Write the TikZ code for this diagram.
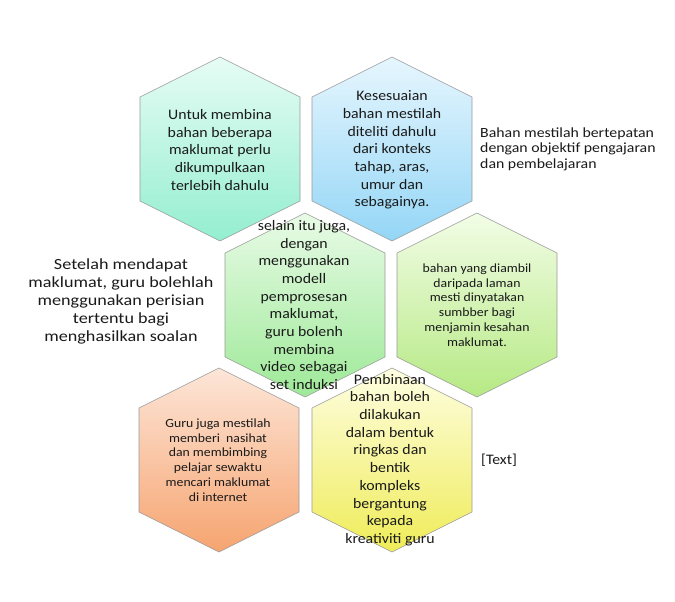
\documentclass[tikz,border=0pt]{standalone}
\usepackage{fontspec}
\setmainfont{Carlito}
\newfontfamily\bigf[FakeStretch=1.09]{Carlito}
\newfontfamily\smallf[FakeStretch=1.1]{Carlito}
\newfontfamily\sidef[FakeStretch=1.17]{Carlito}
\newfontfamily\notef[FakeStretch=1.13]{Carlito}
\definecolor{txt}{HTML}{1A1A1A}
\definecolor{edge}{HTML}{9A9A9A}
\definecolor{aT}{HTML}{E6FCF5}\definecolor{aB}{HTML}{94EED0}
\definecolor{bT}{HTML}{E6F6FE}\definecolor{bB}{HTML}{94D6F6}
\definecolor{cT}{HTML}{E8FBE6}\definecolor{cB}{HTML}{9EE998}
\definecolor{dT}{HTML}{F2FDE6}\definecolor{dB}{HTML}{B6E984}
\definecolor{eT}{HTML}{FDE6D8}\definecolor{eB}{HTML}{F6A470}
\definecolor{fT}{HTML}{FEFEE2}\definecolor{fB}{HTML}{EFEC58}
\usetikzlibrary{calc}
\newcommand{\hexcell}[3]{%
  \shadedraw[hexline, top color=#2, bottom color=#3]
    ($#1+(0,-92)$) -- ($#1+(80,-52)$) -- ($#1+(80,52)$) -- ($#1+(0,92)$)
    -- ($#1+(-80,52)$) -- ($#1+(-80,-52)$) -- cycle;}
\tikzset{
  hexline/.style={draw=edge, line width=0.6pt},
  bigtext/.style={align=center, text=txt, inner sep=0pt, font=\bigf\fontsize{14.5}{17.7}\selectfont},
  smalltext/.style={align=center, text=txt, inner sep=0pt, font=\smallf\fontsize{12.5}{14.8}\selectfont},
  sidetext/.style={text=txt, inner sep=0pt}
}
\begin{document}
\begin{tikzpicture}[x=1pt, y=-1pt]
\useasboundingbox (0,0) rectangle (675,602);
\hexcell{(220,149)}{aT}{aB}
\hexcell{(392,149)}{bT}{bB}
\hexcell{(305,305)}{cT}{cB}
\hexcell{(477,305)}{dT}{dB}
\hexcell{(219,460)}{eT}{eB}
\hexcell{(392,460)}{fT}{fB}
\node[bigtext] (t1) at (220,150) {Untuk membina\\bahan beberapa\\maklumat perlu\\dikumpulkaan\\terlebih dahulu};
\node[bigtext] (t2) at (392,150) {Kesesuaian\\bahan mestilah\\diteliti dahulu\\dari konteks\\tahap, aras,\\umur dan\\sebagainya.};
\node[bigtext] (t3) at (304,305) {selain itu juga,\\dengan\\menggunakan\\modell\\pemprosesan\\maklumat,\\guru bolenh\\membina\\video sebagai\\set induksi};
\node[smalltext] (t4) at (477,305) {bahan yang diambil\\daripada laman\\mesti dinyatakan\\sumbber bagi\\menjamin kesahan\\maklumat.};
\node[smalltext] (t5) at (218,460) {Guru juga mestilah\\memberi~ nasihat\\dan membimbing\\pelajar sewaktu\\mencari maklumat\\di internet};
\node[bigtext] (t6) at (390,460) {Pembinaan\\bahan boleh\\dilakukan\\dalam bentuk\\ringkas dan\\bentik\\kompleks\\bergantung\\kepada\\kreativiti guru};
\node[sidetext, align=center, font=\sidef\fontsize{15.5}{18}\selectfont] (s1) at (121,301) {Setelah mendapat\\maklumat, guru bolehlah\\menggunakan perisian\\tertentu bagi\\menghasilkan soalan};
\node[sidetext, align=left, anchor=west, font=\notef\fontsize{14}{15.5}\selectfont] (s2) at (480,149) {Bahan mestilah bertepatan\\dengan objektif pengajaran\\dan pembelajaran};
\node[sidetext, anchor=west, font=\bigf\fontsize{14.5}{17.7}\selectfont] (s3) at (481,460) {[Text]};
\end{tikzpicture}
\end{document}
